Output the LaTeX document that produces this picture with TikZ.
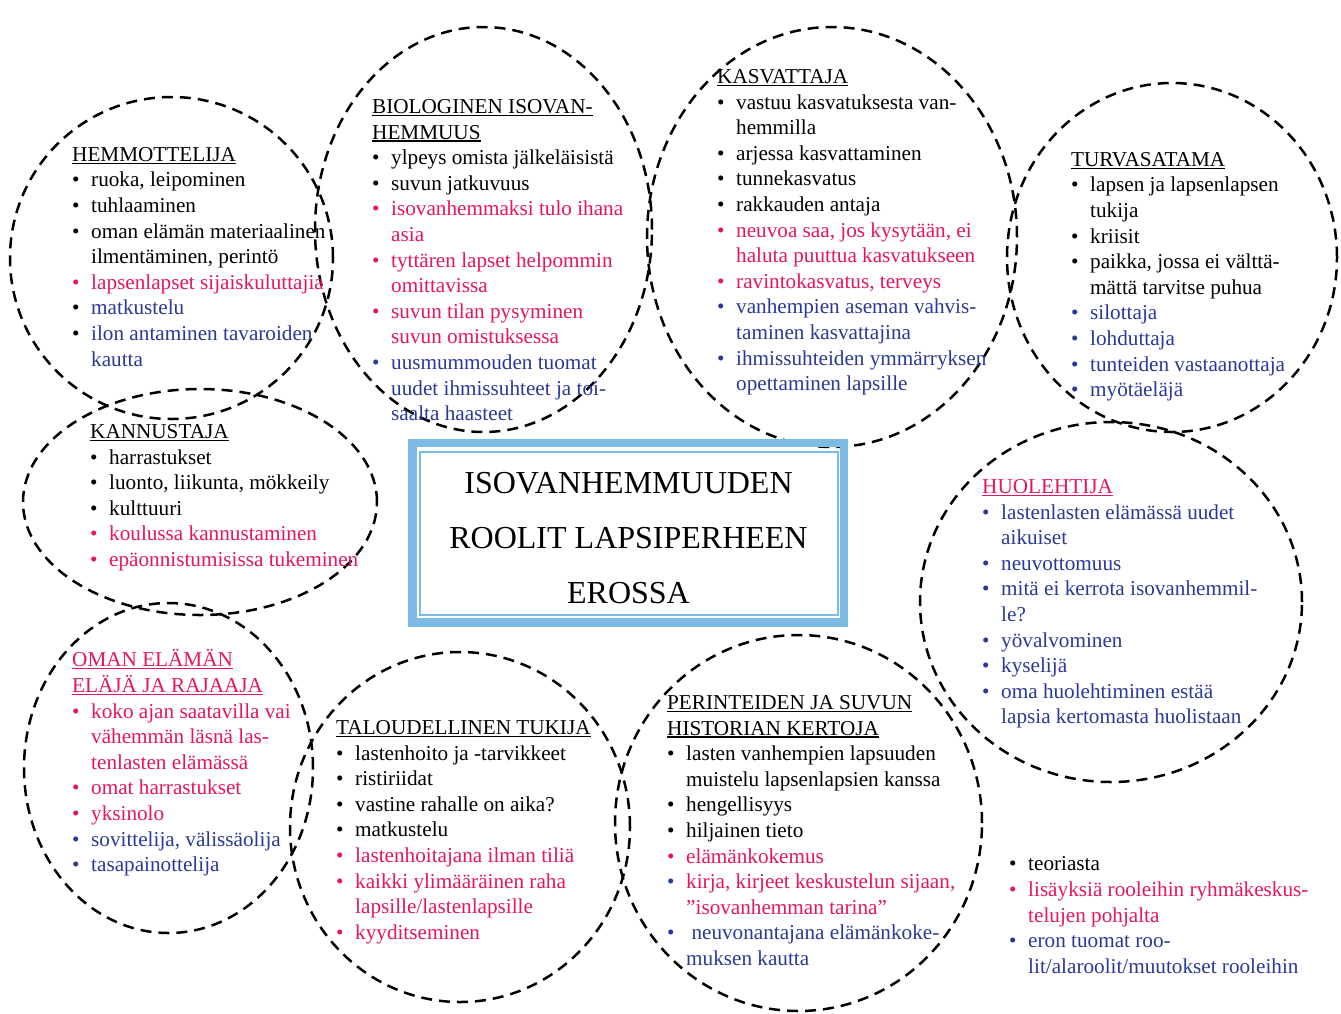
\documentclass[tikz,border=0pt]{standalone}
\usepackage{fontspec}
\setmainfont{Liberation Serif}
\definecolor{rd}{RGB}{228,22,92}
\definecolor{bl}{RGB}{42,56,150}
\definecolor{lb}{RGB}{124,188,228}
\newcommand\bodyfont{\fontsize{21.2}{25.6}\selectfont}
\newcommand\hdl[1]{\setbox0\hbox{#1}\rlap{\rule[-2.4pt]{\wd0}{1.1pt}}\box0}
\newcommand\bli[3]{\makebox[19pt][l]{\textcolor{#1}{\textbullet}}\textcolor{#2}{#3}}
\newcommand\contl[2]{\hspace*{19pt}\textcolor{#1}{#2}}
\tikzset{
  oval/.style={draw=black, line width=2.5pt, dash pattern=on 11pt off 7pt},
  block/.style={anchor=north west, inner sep=0pt, align=left, font=\bodyfont},
}
\begin{document}
\begin{tikzpicture}[x=1pt,y=-1pt]
\useasboundingbox (0,0) rectangle (1341,1013);
% ovals
\draw[oval] (171.5,258) ellipse [x radius=161.5pt, y radius=161pt];
\draw[oval] (483.5,229.5) ellipse [x radius=168.5pt, y radius=202.5pt];
\draw[oval] (832,237) ellipse [x radius=185pt, y radius=210pt];
\draw[oval] (1172,257.5) ellipse [x radius=165pt, y radius=174.5pt];
\draw[oval] (200,502) ellipse [x radius=177pt, y radius=113pt];
\draw[oval] (1111,602) ellipse [x radius=191pt, y radius=180pt];
\draw[oval] (168.5,768) ellipse [x radius=144.5pt, y radius=165pt];
\draw[oval] (460,827) ellipse [x radius=170pt, y radius=175pt];
\draw[oval] (798.5,823) ellipse [x radius=183.5pt, y radius=188pt];
% central box
\draw[lb, line width=8.3pt] (412.5,443.3) rectangle (844.2,622.5);
\draw[lb, line width=2pt] (419.5,451.7) rectangle (838,614.5);
\node (title) [anchor=north, inner sep=0pt, align=center, font=\fontsize{32}{55}\selectfont] at (628.5,454.5)
  {\strut ISOVANHEMMUUDEN\\ROOLIT LAPSIPERHEEN\\EROSSA};
% blocks
\node (hemm) [block] at (72,143.1) {\strut\hdl{HEMMOTTELIJA}\\
\bli{black}{black}{ruoka, leipominen}\\
\bli{black}{black}{tuhlaaminen}\\
\bli{black}{black}{oman elämän materiaalinen}\\
\contl{black}{ilmentäminen, perintö}\\
\bli{rd}{rd}{lapsenlapset sijaiskuluttajia}\\
\bli{black}{bl}{matkustelu}\\
\bli{black}{bl}{ilon antaminen tavaroiden}\\
\contl{bl}{kautta}};
\node (bio) [block] at (372,95.4) {\strut\hdl{BIOLOGINEN ISOVAN-}\\
\hdl{HEMMUUS}\\
\bli{black}{black}{ylpeys omista jälkeläisistä}\\
\bli{black}{black}{suvun jatkuvuus}\\
\bli{rd}{rd}{isovanhemmaksi tulo ihana}\\
\contl{rd}{asia}\\
\bli{rd}{rd}{tyttären lapset helpommin}\\
\contl{rd}{omittavissa}\\
\bli{rd}{rd}{suvun tilan pysyminen}\\
\contl{rd}{suvun omistuksessa}\\
\bli{bl}{bl}{uusmummouden tuomat}\\
\contl{bl}{uudet ihmissuhteet ja toi-}\\
\contl{bl}{saalta haasteet}};
\node (kasv) [block] at (717,65.4) {\strut\hdl{KASVATTAJA}\\
\bli{black}{black}{vastuu kasvatuksesta van-}\\
\contl{black}{hemmilla}\\
\bli{black}{black}{arjessa kasvattaminen}\\
\bli{black}{black}{tunnekasvatus}\\
\bli{black}{black}{rakkauden antaja}\\
\bli{rd}{rd}{neuvoa saa, jos kysytään, ei}\\
\contl{rd}{haluta puuttua kasvatukseen}\\
\bli{rd}{rd}{ravintokasvatus, terveys}\\
\bli{bl}{bl}{vanhempien aseman vahvis-}\\
\contl{bl}{taminen kasvattajina}\\
\bli{bl}{bl}{ihmissuhteiden ymmärryksen}\\
\contl{bl}{opettaminen lapsille}};
\node (turva) [block] at (1071,148.1) {\strut\hdl{TURVASATAMA}\\
\bli{black}{black}{lapsen ja lapsenlapsen}\\
\contl{black}{tukija}\\
\bli{black}{black}{kriisit}\\
\bli{black}{black}{paikka, jossa ei välttä-}\\
\contl{black}{mättä tarvitse puhua}\\
\bli{bl}{bl}{silottaja}\\
\bli{bl}{bl}{lohduttaja}\\
\bli{bl}{bl}{tunteiden vastaanottaja}\\
\bli{bl}{bl}{myötäeläjä}};
\node (kann) [block] at (90,420.4) {\strut\hdl{KANNUSTAJA}\\
\bli{black}{black}{harrastukset}\\
\bli{black}{black}{luonto, liikunta, mökkeily}\\
\bli{black}{black}{kulttuuri}\\
\bli{rd}{rd}{koulussa kannustaminen}\\
\bli{rd}{rd}{epäonnistumisissa tukeminen}};
\node (huol) [block] at (982,475.4) {\strut\textcolor{rd}{\hdl{HUOLEHTIJA}}\\
\bli{bl}{bl}{lastenlasten elämässä uudet}\\
\contl{bl}{aikuiset}\\
\bli{bl}{bl}{neuvottomuus}\\
\bli{bl}{bl}{mitä ei kerrota isovanhemmil-}\\
\contl{bl}{le?}\\
\bli{bl}{bl}{yövalvominen}\\
\bli{bl}{bl}{kyselijä}\\
\bli{bl}{bl}{oma huolehtiminen estää}\\
\contl{bl}{lapsia kertomasta huolistaan}};
\node (oman) [block] at (72,648.8) {\strut\textcolor{rd}{\hdl{OMAN ELÄMÄN}}\\
\textcolor{rd}{\hdl{ELÄJÄ JA RAJAAJA}}\\
\bli{rd}{rd}{koko ajan saatavilla vai}\\
\contl{rd}{vähemmän läsnä las-}\\
\contl{rd}{tenlasten elämässä}\\
\bli{rd}{rd}{omat harrastukset}\\
\bli{rd}{rd}{yksinolo}\\
\bli{bl}{bl}{sovittelija, välissäolija}\\
\bli{bl}{bl}{tasapainottelija}};
\node (talo) [block] at (336,716.4) {\strut\hdl{TALOUDELLINEN TUKIJA}\\
\bli{black}{black}{lastenhoito ja -tarvikkeet}\\
\bli{black}{black}{ristiriidat}\\
\bli{black}{black}{vastine rahalle on aika?}\\
\bli{black}{black}{matkustelu}\\
\bli{rd}{rd}{lastenhoitajana ilman tiliä}\\
\bli{rd}{rd}{kaikki ylimääräinen raha}\\
\contl{rd}{lapsille/lastenlapsille}\\
\bli{rd}{rd}{kyyditseminen}};
\node (peri) [block] at (667,691.4) {\strut\hdl{PERINTEIDEN JA SUVUN}\\
\hdl{HISTORIAN KERTOJA}\\
\bli{black}{black}{lasten vanhempien lapsuuden}\\
\contl{black}{muistelu lapsenlapsien kanssa}\\
\bli{black}{black}{hengellisyys}\\
\bli{black}{black}{hiljainen tieto}\\
\bli{rd}{rd}{elämänkokemus}\\
\bli{bl}{rd}{kirja, kirjeet keskustelun sijaan,}\\
\contl{rd}{”isovanhemman tarina”}\\
\bli{bl}{bl}{\ neuvonantajana elämänkoke-}\\
\contl{bl}{muksen kautta}};
\node (legend) [block] at (1009,852.8) {\strut\bli{black}{black}{teoriasta}\\
\bli{rd}{rd}{lisäyksiä rooleihin ryhmäkeskus-}\\
\contl{rd}{telujen pohjalta}\\
\bli{bl}{bl}{eron tuomat roo-}\\
\contl{bl}{lit/alaroolit/muutokset rooleihin}};
\end{tikzpicture}
\end{document}
